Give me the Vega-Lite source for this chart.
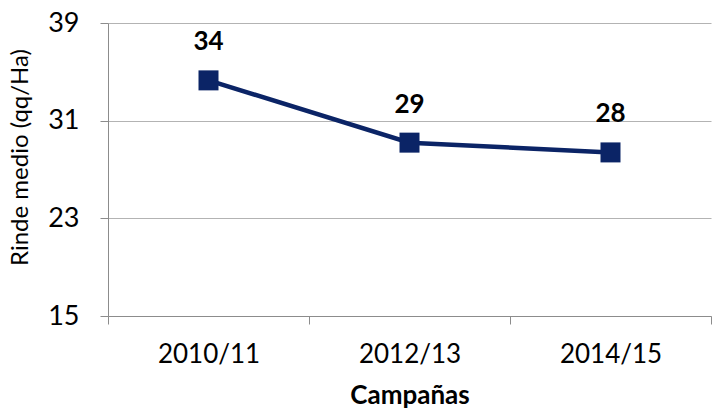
{
  "$schema": "https://vega.github.io/schema/vega-lite/v6.json",
  "width": 603,
  "height": 293,
  "autosize": {"type": "none"},
  "padding": {"left": 108, "top": 23, "right": 1, "bottom": 96},
  "background": "white",
  "config": {"view": {"stroke": null}, "font": "Lato"},
  "data": {
    "values": [
      {"campana": "2010/11", "rinde": 34.3, "etiqueta": "34"},
      {"campana": "2012/13", "rinde": 29.2, "etiqueta": "29"},
      {"campana": "2014/15", "rinde": 28.4, "etiqueta": "28"}
    ]
  },
  "encoding": {
    "x": {
      "field": "campana",
      "type": "ordinal",
      "scale": {"type": "band", "paddingInner": 0, "paddingOuter": 0},
      "axis": {
        "title": "Campañas",
        "labelAngle": 0,
        "tickBand": "extent",
        "tickSize": 8,
        "tickColor": "#8c8c8c",
        "domainColor": "#8c8c8c",
        "labelFont": "Lato",
        "labelFontSize": 26,
        "labelColor": "#000000",
        "labelPadding": 17,
        "titleFont": "Lato",
        "titleFontSize": 26,
        "titleFontWeight": "bold",
        "titleColor": "#000000",
        "titlePadding": 15,
        "grid": false
      }
    },
    "y": {
      "field": "rinde",
      "type": "quantitative",
      "scale": {"domain": [15, 39], "nice": false, "zero": false},
      "axis": {
        "values": [15, 23, 31, 39],
        "title": "Rinde medio (qq/Ha)",
        "tickSize": 8,
        "tickColor": "#8c8c8c",
        "domainColor": "#8c8c8c",
        "gridColor": "#b3b3b3",
        "labelFont": "Lato",
        "labelFontSize": 27,
        "labelColor": "#000000",
        "labelPadding": 21,
        "titleFont": "Lato",
        "titleFontSize": 24,
        "titleFontWeight": "normal",
        "titleColor": "#000000",
        "titlePadding": 15,
        "titleY": 134
      }
    }
  },
  "layer": [
    {"mark": {"type": "line", "color": "#0b2466", "strokeWidth": 4.5}},
    {"mark": {"type": "point", "shape": "square", "filled": true, "size": 400, "color": "#0b2466", "opacity": 1}},
    {
      "mark": {"type": "text", "font": "Lato", "fontSize": 26, "fontWeight": "bold", "color": "#000000", "baseline": "alphabetic", "dy": -30},
      "encoding": {"text": {"field": "etiqueta"}}
    }
  ]
}
